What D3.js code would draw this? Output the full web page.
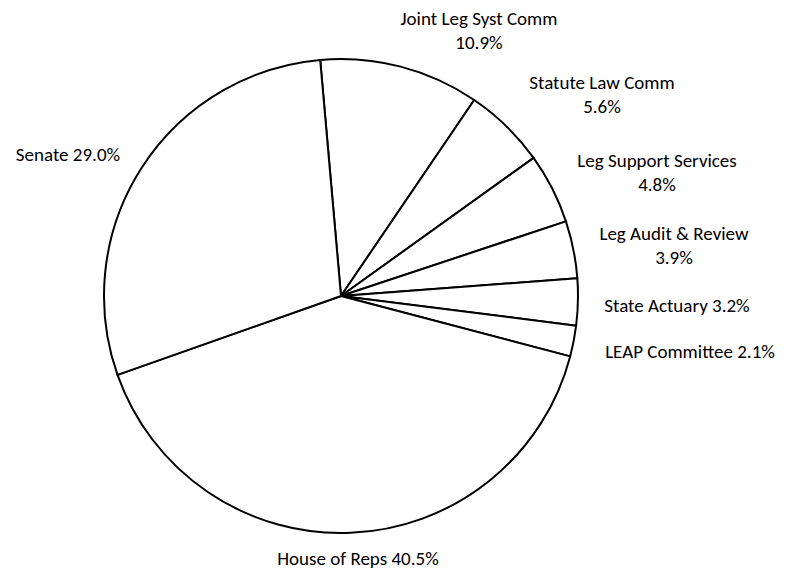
<!DOCTYPE html>
<html>
<head>
<meta charset="utf-8">
<script src="https://cdn.jsdelivr.net/npm/d3@7"></script>
<style>
  html, body { margin: 0; padding: 0; background: #fff; }
  svg { display: block; }
  text { font-family: Carlito, Calibri, Lato, "Open Sans", sans-serif; fill: #000; }
</style>
</head>
<body>
<svg id="chart" width="789" height="571"></svg>
<script>
// ---- data ----
const categories = ["Joint Leg Syst Comm", "Statute Law Comm", "Leg Support Services",
  "Leg Audit & Review", "State Actuary", "LEAP Committee", "House of Reps", "Senate"];
const shares = [10.9, 5.6, 4.8, 3.9, 3.2, 2.1, 40.5, 29.0];
const pctLabels = ["10.9%", "5.6%", "4.8%", "3.9%", "3.2%", "2.1%", "40.5%", "29.0%"];

// ---- layout (label anchor centers, line split) ----
const labelLayout = [
  { x: 479, y: 18, two: true },
  { x: 602, y: 82, two: true },
  { x: 657, y: 160, two: true },
  { x: 674, y: 233, two: true },
  { x: 677, y: 305, two: false },
  { x: 690, y: 351, two: false },
  { x: 358, y: 558, two: false },
  { x: 68,  y: 154, two: false }
];

const W = 789, H = 571;
const cx = 341, cy = 296, R = 237;
const startDeg = -5.04;

const svg = d3.select("#chart");
const g = svg.append("g").attr("transform", `translate(${cx},${cy})`);

const a0 = startDeg * Math.PI / 180;
const pie = d3.pie().sort(null).value(d => d).startAngle(a0).endAngle(a0 + 2 * Math.PI);
const arc = d3.arc().innerRadius(0).outerRadius(R);

g.selectAll("path.slice")
  .data(pie(shares))
  .join("path")
  .attr("class", "slice")
  .attr("d", arc)
  .attr("fill", "#fff")
  .attr("stroke", "#000")
  .attr("stroke-width", 2)
  .attr("stroke-linejoin", "round");

// calibrate font size to reference width of one label
const probe = svg.append("text").attr("font-size", 16).text("House of Reps 40.5%");
const w16 = probe.node().getComputedTextLength();
probe.remove();
let fs = 16 * 163 / w16;
fs = Math.max(13, Math.min(19, fs));

const labels = svg.append("g");
categories.forEach((name, i) => {
  const L = labelLayout[i];
  const t = labels.append("text")
    .attr("text-anchor", "middle")
    .attr("font-size", fs)
    .attr("dominant-baseline", "central");
  if (L.two) {
    t.append("tspan").attr("x", L.x).attr("y", L.y).text(name);
    t.append("tspan").attr("x", L.x).attr("y", L.y + 24).text(pctLabels[i]);
  } else {
    t.attr("x", L.x).attr("y", L.y).text(name + " " + pctLabels[i]);
  }
});
</script>
</body>
</html>
